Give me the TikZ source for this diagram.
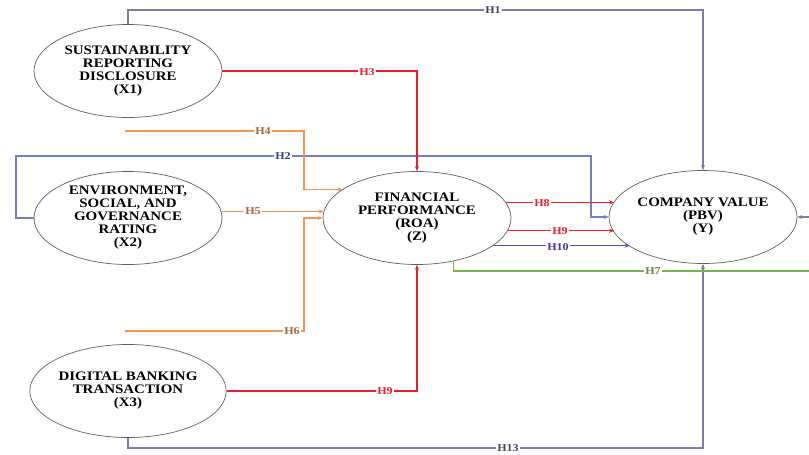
\documentclass[tikz,border=0pt]{standalone}
\usepackage{fontspec}
\setmainfont{Liberation Serif}[FakeStretch=1.15]
\usetikzlibrary{shapes.geometric,arrows.meta}
\definecolor{cred}{RGB}{236,30,45}
\definecolor{corange}{RGB}{240,150,85}
\definecolor{corlbl}{RGB}{170,100,60}
\definecolor{cblue}{RGB}{120,125,200}
\definecolor{cblulbl}{RGB}{60,60,140}
\definecolor{cgray}{RGB}{125,125,170}
\definecolor{cgrylbl}{RGB}{70,70,90}
\definecolor{cpurple}{RGB}{95,75,170}
\definecolor{cpurlbl}{RGB}{80,50,150}
\definecolor{cgreen}{RGB}{115,180,75}
\definecolor{cgrnlbl}{RGB}{110,130,60}
\definecolor{cedge}{RGB}{95,95,95}
\begin{document}
\begin{tikzpicture}[x=1pt,y=-1pt,
  construct/.style={ellipse,draw=cedge,line width=0.7pt,fill=white,minimum width=188pt,minimum height=93pt,inner sep=0pt,align=center,font=\fontsize{13}{13}\selectfont\bfseries},
  link/.style={line width=1.1pt,-{Stealth[length=5pt,width=4pt]}},
  plain/.style={line width=1.1pt},
  lbl/.style={fill=white,inner sep=1pt,font=\fontsize{10.5}{10.5}\selectfont\bfseries}]
\useasboundingbox (0,0) rectangle (809,455);

% constructs
\node[construct] (x1) at (128,71) {SUSTAINABILITY\\REPORTING\\DISCLOSURE\\(X1)};
\node[construct] (x2) at (128,218) {ENVIRONMENT,\\SOCIAL, AND\\GOVERNANCE\\RATING\\(X2)};
\node[construct] (x3) at (128,391) {DIGITAL BANKING\\TRANSACTION\\(X3)};
\node[construct] (fp) at (417,218) {FINANCIAL\\PERFORMANCE\\(ROA)\\(Z)};
\node[construct] (cv) at (703,217) {COMPANY VALUE\\(PBV)\\(Y)};

% helper coordinates
\coordinate (h1a) at (703,10);
\coordinate (h2a) at (16,156);
\coordinate (h2b) at (591,156);
\coordinate (h4s) at (125,131);
\coordinate (h4k) at (304,131);
\coordinate (h6s) at (125,331);
\coordinate (h6k) at (304,331);
\coordinate (h13a) at (703,448);
\coordinate (h7e) at (809,271);
\coordinate (rin) at (809,217);

% H1
\draw[link,color=cgray] (x1.north) |- (h1a) -- (cv.north);
% H2
\draw[link,color=cblue] (x2.west) -- (x2.west -| h2a) -- (h2a) -- (h2b) -- (h2b |- cv.west) -- (cv.west);
% H3
\draw[link,color=cred] (x1.east) -| (fp.north);
% H4
\draw[link,color=corange] (h4s) -- (h4k) -- (h4k |- fp.159) -- (fp.159);
% H5
\draw[link,color=corange] (x2.4) -- (fp.176);
% H6
\draw[link,color=corange] (h6s) -- (h6k) -- (h6k |- fp.west) -- (fp.west);
% H9 lower
\draw[link,color=cred] (x3.east) -| (fp.south);
% H13
\draw[link,color=cgray] (x3.south) |- (h13a) -- (cv.south);
% H8
\draw[link,color=cred] (fp.10) -- (fp.10 -| cv.170);
% H9 upper
\draw[link,color=cred] (fp.-8) -- (fp.-8 -| cv.190);
% H10
\draw[link,color=cpurple] (fp.-20) -- (fp.-20 -| cv.202);
% H7
\draw[plain,color=cgreen] (fp.-50) |- (h7e);
% incoming from right edge
\draw[link,color=cgray] (rin) -- (cv.east);

% labels
\node[lbl,text=cgrylbl] (l1) at (493,10) {H1};
\node[lbl,text=cblulbl] (l2) at (283,156) {H2};
\node[lbl,text=cred] (l3) at (367,72) {H3};
\node[lbl,text=corlbl] (l4) at (263,131) {H4};
\node[lbl,text=corlbl] (l5) at (253,211) {H5};
\node[lbl,text=corlbl] (l6) at (292,331) {H6};
\node[lbl,text=cgrnlbl] (l7) at (653,271) {H7};
\node[lbl,text=cred] (l8) at (542,203) {H8};
\node[lbl,text=cred] (l9a) at (560,231) {H9};
\node[lbl,text=cpurlbl] (l10) at (558,247) {H10};
\node[lbl,text=cred] (l9b) at (385,391) {H9};
\node[lbl,text=cgrylbl] (l13) at (508,448) {H13};
\end{tikzpicture}
\end{document}
